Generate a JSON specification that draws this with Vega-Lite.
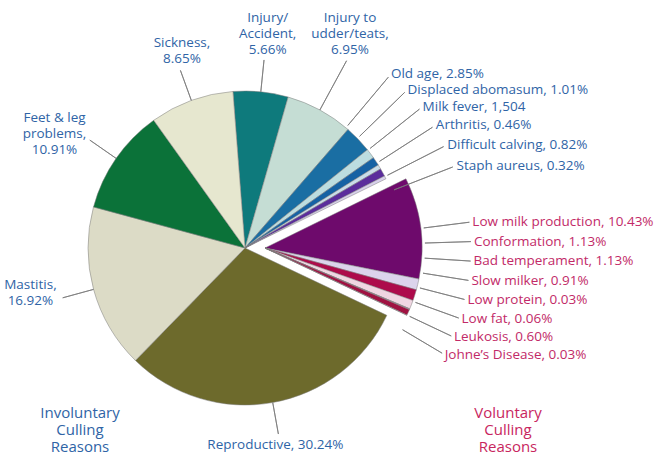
{
  "$schema": "https://vega.github.io/schema/vega-lite/v6.json",
  "width": 320,
  "height": 320,
  "autosize": "none",
  "padding": {"left": 85, "top": 88, "right": 251, "bottom": 47},
  "background": "white",
  "config": {"view": {"stroke": null}, "text": {"font": "Open Sans"}},
  "data": {
    "values": [
      {"rank": 1, "reason": "Injury/Accident", "pct": 5.66, "group": "Involuntary", "label": ["Injury/", "Accident,", "5.66%"]},
      {"rank": 2, "reason": "Injury to udder/teats", "pct": 6.95, "group": "Involuntary", "label": ["Injury to", "udder/teats,", "6.95%"]},
      {"rank": 3, "reason": "Old age", "pct": 2.85, "group": "Involuntary", "label": "Old age, 2.85%"},
      {"rank": 4, "reason": "Displaced abomasum", "pct": 1.01, "group": "Involuntary", "label": "Displaced abomasum, 1.01%"},
      {"rank": 5, "reason": "Milk fever", "pct": 0.89, "group": "Involuntary", "label": "Milk fever, 1,504"},
      {"rank": 6, "reason": "Arthritis", "pct": 0.46, "group": "Involuntary", "label": "Arthritis, 0.46%"},
      {"rank": 7, "reason": "Difficult calving", "pct": 0.82, "group": "Involuntary", "label": "Difficult calving, 0.82%"},
      {"rank": 8, "reason": "Staph aureus", "pct": 0.32, "group": "Involuntary", "label": "Staph aureus, 0.32%"},
      {"rank": 9, "reason": "Low milk production", "pct": 10.43, "group": "Voluntary", "label": "Low milk production, 10.43%"},
      {"rank": 10, "reason": "Conformation", "pct": 1.13, "group": "Voluntary", "label": "Conformation, 1.13%"},
      {"rank": 11, "reason": "Bad temperament", "pct": 1.13, "group": "Voluntary", "label": "Bad temperament, 1.13%"},
      {"rank": 12, "reason": "Slow milker", "pct": 0.91, "group": "Voluntary", "label": "Slow milker, 0.91%"},
      {"rank": 13, "reason": "Low protein", "pct": 0.03, "group": "Voluntary", "label": "Low protein, 0.03%"},
      {"rank": 14, "reason": "Low fat", "pct": 0.06, "group": "Voluntary", "label": "Low fat, 0.06%"},
      {"rank": 15, "reason": "Leukosis", "pct": 0.60, "group": "Voluntary", "label": "Leukosis, 0.60%"},
      {"rank": 16, "reason": "Johne’s Disease", "pct": 0.03, "group": "Voluntary", "label": "Johne’s Disease, 0.03%"},
      {"rank": 17, "reason": "Reproductive", "pct": 30.24, "group": "Involuntary", "label": "Reproductive, 30.24%"},
      {"rank": 18, "reason": "Mastitis", "pct": 16.92, "group": "Involuntary", "label": ["Mastitis,", "16.92%"]},
      {"rank": 19, "reason": "Feet & leg problems", "pct": 10.91, "group": "Involuntary", "label": ["Feet & leg", "problems,", "10.91%"]},
      {"rank": 20, "reason": "Sickness", "pct": 8.65, "group": "Involuntary", "label": ["Sickness,", "8.65%"]}
    ]
  },
  "resolve": {"scale": {"theta": "independent", "x": "independent"}},
  "layer": [
    {
      "mark": {"type": "arc", "outerRadius": 157, "stroke": "#7d7d7d", "strokeWidth": 0.5},
      "encoding": {
        "theta": {"field": "pct", "type": "quantitative", "stack": true, "scale": {"domain": [0, 100], "range": [-0.077, 6.2062]}},
        "order": {"field": "rank", "type": "quantitative"},
        "color": {
          "field": "reason", "type": "nominal", "legend": null,
          "scale": {
            "domain": ["Injury/Accident", "Injury to udder/teats", "Old age", "Displaced abomasum", "Milk fever", "Arthritis", "Difficult calving", "Staph aureus", "Low milk production", "Conformation", "Bad temperament", "Slow milker", "Low protein", "Low fat", "Leukosis", "Johne’s Disease", "Reproductive", "Mastitis", "Feet & leg problems", "Sickness"],
            "range": ["#0e7a7c", "#c5ddd4", "#1a6ea3", "#bcdde0", "#1662a4", "#c9dde9", "#5b2d9c", "#d8d0ec", "#6e0a6c", "#dcd4ec", "#ad0b4b", "#f0d6e2", "#e6c6d6", "#d9b0c2", "#a01242", "#f2b8c8", "#6d6a2c", "#dcdbc6", "#0b7239", "#e6e7cf"]
          }
        },
        "opacity": {"condition": {"test": "datum.group === 'Voluntary'", "value": 0}, "value": 1}
      }
    },
    {
      "mark": {"type": "arc", "outerRadius": 157, "stroke": "#7d7d7d", "strokeWidth": 0.5, "xOffset": 20},
      "encoding": {
        "theta": {"field": "pct", "type": "quantitative", "stack": true, "scale": {"domain": [0, 100], "range": [-0.077, 6.2062]}},
        "order": {"field": "rank", "type": "quantitative"},
        "color": {"field": "reason", "type": "nominal", "legend": null},
        "opacity": {"condition": {"test": "datum.group === 'Voluntary'", "value": 1}, "value": 0}
      }
    },
    {
      "mark": {"type": "arc", "innerRadius": 157, "outerRadius": 189, "padAngle": 3, "fillOpacity": 0, "stroke": "#7a7a7a", "strokeWidth": 0.8},
      "encoding": {
        "theta": {"field": "pct", "type": "quantitative", "stack": true, "scale": {"domain": [0, 100], "range": [-0.077, 6.2062]}},
        "order": {"field": "rank", "type": "quantitative"},
        "opacity": {"condition": {"test": "datum.group === 'Involuntary' && datum.pct > 5 && datum.rank !== 2", "value": 1}, "value": 0}
      }
    },
    {
      "mark": {"type": "arc", "innerRadius": 157, "outerRadius": 213, "padAngle": 3, "fillOpacity": 0, "stroke": "#7a7a7a", "strokeWidth": 0.8},
      "encoding": {
        "theta": {"field": "pct", "type": "quantitative", "stack": true, "scale": {"domain": [0, 100], "range": [-0.077, 6.2062]}},
        "order": {"field": "rank", "type": "quantitative"},
        "opacity": {"condition": {"test": "datum.rank === 2", "value": 1}, "value": 0}
      }
    },
    {
      "mark": {"type": "text", "radius": 205, "dx": 7, "dy": -12, "fontSize": 13.5, "lineHeight": 16, "color": "#2f64a6", "align": "center", "baseline": "middle"},
      "encoding": {
        "theta": {"field": "pct", "type": "quantitative", "stack": true, "scale": {"domain": [0, 100], "range": [-0.077, 6.2062]}},
        "order": {"field": "rank", "type": "quantitative"},
        "text": {"field": "label"},
        "opacity": {"condition": {"test": "datum.rank === 20", "value": 1}, "value": 0}
      }
    },
    {
      "mark": {"type": "text", "radius": 225, "dy": -6, "fontSize": 13.5, "lineHeight": 16, "color": "#2f64a6", "align": "center", "baseline": "middle"},
      "encoding": {
        "theta": {"field": "pct", "type": "quantitative", "stack": true, "scale": {"domain": [0, 100], "range": [-0.077, 6.2062]}},
        "order": {"field": "rank", "type": "quantitative"},
        "text": {"field": "label"},
        "opacity": {"condition": {"test": "datum.rank === 1", "value": 1}, "value": 0}
      }
    },
    {
      "mark": {"type": "text", "radius": 235, "dx": -7, "dy": -23, "fontSize": 13.5, "lineHeight": 16, "color": "#2f64a6", "align": "center", "baseline": "middle"},
      "encoding": {
        "theta": {"field": "pct", "type": "quantitative", "stack": true, "scale": {"domain": [0, 100], "range": [-0.077, 6.2062]}},
        "order": {"field": "rank", "type": "quantitative"},
        "text": {"field": "label"},
        "opacity": {"condition": {"test": "datum.rank === 2", "value": 1}, "value": 0}
      }
    },
    {
      "mark": {"type": "text", "radius": 215, "dx": -14, "dy": -7, "fontSize": 13.5, "lineHeight": 16, "color": "#2f64a6", "align": "center", "baseline": "middle"},
      "encoding": {
        "theta": {"field": "pct", "type": "quantitative", "stack": true, "scale": {"domain": [0, 100], "range": [-0.077, 6.2062]}},
        "order": {"field": "rank", "type": "quantitative"},
        "text": {"field": "label"},
        "opacity": {"condition": {"test": "datum.rank === 19", "value": 1}, "value": 0}
      }
    },
    {
      "mark": {"type": "text", "radius": 210, "dx": -12, "dy": -18, "fontSize": 13.5, "lineHeight": 16, "color": "#2f64a6", "align": "center", "baseline": "middle"},
      "encoding": {
        "theta": {"field": "pct", "type": "quantitative", "stack": true, "scale": {"domain": [0, 100], "range": [-0.077, 6.2062]}},
        "order": {"field": "rank", "type": "quantitative"},
        "text": {"field": "label"},
        "opacity": {"condition": {"test": "datum.rank === 18", "value": 1}, "value": 0}
      }
    },
    {
      "mark": {"type": "text", "radius": 200, "dx": -5, "fontSize": 13.5, "color": "#2f64a6", "align": "center", "baseline": "middle"},
      "encoding": {
        "theta": {"field": "pct", "type": "quantitative", "stack": true, "scale": {"domain": [0, 100], "range": [-0.077, 6.2062]}},
        "order": {"field": "rank", "type": "quantitative"},
        "text": {"field": "label"},
        "opacity": {"condition": {"test": "datum.rank === 17", "value": 1}, "value": 0}
      }
    },
    {
      "transform": [{"filter": "datum.group === 'Involuntary' && datum.pct < 5"}],
      "mark": {"type": "arc", "innerRadius": 160, "outerRadius": 223, "padAngle": 3, "fillOpacity": 0, "stroke": "#7a7a7a", "strokeWidth": 0.8},
      "encoding": {
        "theta": {"field": "reason", "type": "ordinal", "sort": {"field": "rank"}, "scale": {"type": "band", "range": [0.648, 1.249], "paddingInner": 0, "paddingOuter": 0}}
      }
    },
    {
      "transform": [{"filter": "datum.group === 'Involuntary' && datum.pct < 5"}],
      "mark": {"type": "text", "radius": 227, "fontSize": 13.5, "color": "#2f64a6", "align": "left", "baseline": "middle"},
      "encoding": {
        "theta": {"field": "reason", "type": "ordinal", "sort": {"field": "rank"}, "scale": {"type": "band", "range": [0.648, 1.249], "paddingInner": 0, "paddingOuter": 0}},
        "text": {"field": "label"}
      }
    },
    {
      "transform": [{"filter": "datum.group === 'Voluntary'"}],
      "mark": {"type": "arc", "innerRadius": 160, "outerRadius": 206, "padAngle": 3, "fillOpacity": 0, "stroke": "#7a7a7a", "strokeWidth": 0.8, "xOffset": 20},
      "encoding": {
        "theta": {"field": "reason", "type": "ordinal", "sort": {"field": "rank"}, "scale": {"type": "band", "range": [1.398, 2.154], "paddingInner": 0, "paddingOuter": 0}}
      }
    },
    {
      "transform": [{"filter": "datum.group === 'Voluntary'"}],
      "mark": {"type": "text", "radius": 209, "fontSize": 13.5, "color": "#c22a68", "align": "left", "baseline": "middle", "xOffset": 20},
      "encoding": {
        "theta": {"field": "reason", "type": "ordinal", "sort": {"field": "rank"}, "scale": {"type": "band", "range": [1.398, 2.154], "paddingInner": 0, "paddingOuter": 0}},
        "text": {"field": "label"}
      }
    },
    {
      "data": {"values": [
        {"group": "Involuntary", "caption": ["Involuntary", "Culling", "Reasons"]},
        {"group": "Voluntary", "caption": ["Voluntary", "Culling", "Reasons"]}
      ]},
      "mark": {"type": "text", "fontSize": 15, "lineHeight": 17, "align": "center", "baseline": "middle"},
      "encoding": {
        "x": {"field": "group", "type": "nominal", "axis": null, "scale": {"type": "point", "padding": 0, "domain": ["Involuntary", "Voluntary"], "range": [-5, 423]}},
        "y": {"value": 325},
        "text": {"field": "caption"},
        "color": {"condition": {"test": "datum.group === 'Voluntary'", "value": "#c8265e"}, "value": "#2f64a6"}
      }
    }
  ]
}
